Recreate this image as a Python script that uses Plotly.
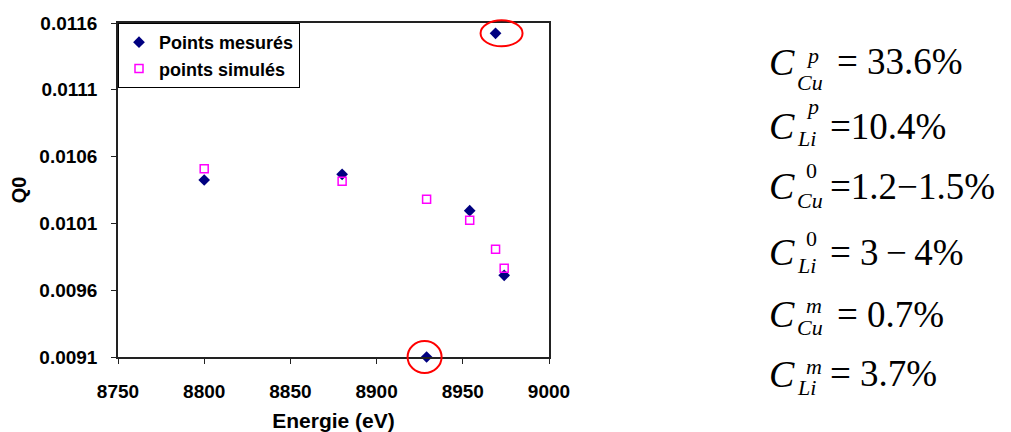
import plotly.graph_objects as go

# ---- data ----
energy_measured = [8800, 8880, 8969, 8954, 8974, 8929]
q0_measured = [0.010425, 0.010467, 0.011523, 0.010195, 0.009711, 0.009100]
energy_simulated = [8800, 8880, 8929, 8954, 8969, 8974]
q0_simulated = [0.010509, 0.010415, 0.010280, 0.010123, 0.009906, 0.009764]
highlighted_idx = [2, 5]  # measured points circled in red

x_range = [8750, 9000]
y_range = [0.0091, 0.0116]
y_ticks = [0.0091, 0.0096, 0.0101, 0.0106, 0.0111, 0.0116]
x_ticks = [8750, 8800, 8850, 8900, 8950, 9000]

formula_sup = ["<i>p</i>", "<i>p</i>", "0", "0", "<i>m</i>", "<i>m</i>"]
formula_sub = ["Cu", "Li", "Cu", "Li", "Cu", "Li"]
formula_val = ["= 33.6%", "=10.4%", "=1.2\u22121.5%", "= 3\u2009\u2212\u20094%", "= 0.7%", "= 3.7%"]

# ---- layout geometry (screen pixels; page body has an 8px margin) ----
OFF = 8
W, H = 1011 - OFF, 432 - OFF
L, R, T, B = 118, 549, 23, 357   # plot area in screen pixels

def px(x):
    return (x - L) / (R - L)

def py(y):
    return (B - y) / (B - T)

AX = "#222222"

fig = go.Figure()
fig.add_trace(go.Scatter(
    x=energy_measured, y=q0_measured, mode="markers", name="Points mesurés",
    marker=dict(symbol="diamond", size=9, color="#000080"), cliponaxis=False))
fig.add_trace(go.Scatter(
    x=energy_simulated, y=q0_simulated, mode="markers", name="points simulés",
    marker=dict(symbol="square-open", size=8, color="#FF00FF", line=dict(width=1.5, color="#FF00FF")),
    cliponaxis=False))

shapes = []
circle_sizes = [(-15, 27, -13, 13), (-19, 15, -16, 16)]
for idx, (a, b, c, d) in zip(highlighted_idx, circle_sizes):
    xa = (energy_measured[idx] - x_range[0]) / (x_range[1] - x_range[0])
    ya = (q0_measured[idx] - y_range[0]) / (y_range[1] - y_range[0])
    shapes.append(dict(type="circle", xref="paper", yref="paper", xsizemode="pixel", ysizemode="pixel",
                       xanchor=xa, yanchor=ya, x0=a, x1=b, y0=c, y1=d,
                       line=dict(color="#FF0000", width=2)))

annotations = []
row_c = [63, 127, 187, 253, 315, 375]
row_sup = [56, 106, 170, 238, 305, 366]
row_sub = [82, 138, 200, 265, 327, 387]
eq_x = [835, 828, 828, 828, 835, 828]
serif = "Liberation Serif"
for i in range(6):
    annotations.append(dict(xref="paper", yref="paper", x=px(767), y=py(row_c[i] - 1),
                            xanchor="left", yanchor="middle", showarrow=False,
                            text="<i>C</i>", font=dict(family=serif, size=38, color="black")))
    annotations.append(dict(xref="paper", yref="paper", x=px(804), y=py(row_sup[i]),
                            xanchor="left", yanchor="middle", showarrow=False,
                            text=formula_sup[i], font=dict(family=serif, size=22, color="black")))
    annotations.append(dict(xref="paper", yref="paper", x=px(795), y=py(row_sub[i]),
                            xanchor="left", yanchor="middle", showarrow=False,
                            text="<i>%s</i>" % formula_sub[i], font=dict(family=serif, size=22, color="black")))
    annotations.append(dict(xref="paper", yref="paper", x=px(eq_x[i]), y=py(row_c[i] - 1),
                            xanchor="left", yanchor="middle", showarrow=False,
                            text=formula_val[i], font=dict(family=serif, size=37, color="black")))

fig.update_layout(
    width=W, height=H,
    margin=dict(l=L - OFF, r=W - (R - OFF), t=T - OFF, b=H - (B - OFF), autoexpand=False),
    paper_bgcolor="white", plot_bgcolor="white",
    font=dict(family="Liberation Sans", color="black"),
    showlegend=True,
    legend=dict(x=0, y=1, xanchor="left", yanchor="top", bgcolor="white",
                bordercolor="black", borderwidth=1,
                font=dict(size=18, weight="bold", family="Liberation Sans"),
                itemwidth=30, tracegroupgap=0),
    shapes=shapes, annotations=annotations,
)
fig.update_xaxes(range=x_range, tickvals=x_ticks, showgrid=False, zeroline=False,
                 showline=True, linecolor=AX, linewidth=1.5, mirror=True,
                 ticks="outside", ticklen=5, tickcolor=AX,
                 tickfont=dict(size=19, weight="bold"), ticklabelstandoff=11,
                 title=dict(text="Energie (eV)", font=dict(size=21, weight="bold"), standoff=17))
fig.update_yaxes(range=y_range, tickvals=y_ticks, tickformat=".4f", showgrid=False,
                 zeroline=False, showline=True, linecolor=AX, linewidth=1.5, mirror=True,
                 ticks="outside", ticklen=5, tickcolor=AX,
                 tickfont=dict(size=19, weight="bold"), ticklabelstandoff=10,
                 title=dict(text="Q0", font=dict(size=20, weight="bold"), standoff=12))

fig.write_html("out.html")
